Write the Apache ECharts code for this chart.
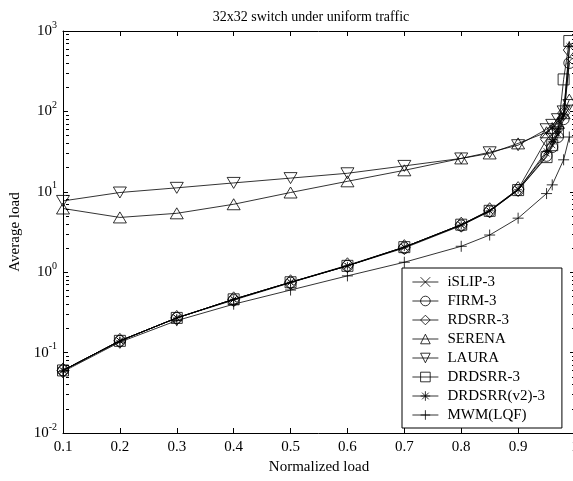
<!DOCTYPE html>
<html>
<head>
<meta charset="utf-8">
<script src="https://cdn.jsdelivr.net/npm/echarts@6/dist/echarts.min.js"></script>
<style>
  html, body { margin: 0; padding: 0; background: #fff; }
  #chart { width: 573px; height: 481px; }
</style>
</head>
<body>
<div id="chart"></div>
<script>
// offered load points (x axis)
const loads = [0.1, 0.2, 0.3, 0.4, 0.5, 0.6, 0.7, 0.8, 0.85, 0.9, 0.95, 0.96, 0.97, 0.98, 0.99];

// average load per scheme
const islip    = [0.06, 0.14, 0.27, 0.46, 0.75, 1.2, 2.05, 3.9, 5.8, 10.8, 30, 38, 52, 90, 420];
const firm     = [0.06, 0.14, 0.27, 0.45, 0.74, 1.2, 2.0, 3.8, 5.7, 10.5, 28, 36, 48, 80, 400];
const rdsrr    = [0.06, 0.14, 0.27, 0.46, 0.75, 1.22, 2.05, 3.9, 5.9, 10.8, 45, 52, 62, 95, 580];
const serena   = [6.2, 4.8, 5.4, 7.0, 9.8, 13.5, 18.5, 26, 30, 40, 55, 62, 72, 95, 140];
const laura    = [7.7, 9.8, 11.2, 12.9, 14.8, 17, 21, 26, 31, 38, 60, 68, 80, 100, 120];
const drdsrr   = [0.06, 0.14, 0.27, 0.46, 0.75, 1.2, 2.05, 3.9, 5.8, 10.5, 27, 38, 55, 250, 750];
const drdsrrV2 = [0.06, 0.14, 0.27, 0.46, 0.75, 1.2, 2.05, 3.85, 5.8, 10.6, 32, 42, 60, 90, 650];
const mwm      = [0.058, 0.135, 0.25, 0.4, 0.6, 0.9, 1.33, 2.1, 2.9, 4.7, 9.5, 12.2, null, 25, 48];

const seriesNames = ['iSLIP-3', 'FIRM-3', 'RDSRR-3', 'SERENA', 'LAURA', 'DRDSRR-3', 'DRDSRR(v2)-3', 'MWM(LQF)'];
const seriesValues = [islip, firm, rdsrr, serena, laura, drdsrr, drdsrrV2, mwm];

// y axis decades (exponents of 10) and the log minor ticks between them
const yExponents = [-2, -1, 0, 1, 2, 3];
const minorTicks = [];
yExponents.slice(0, -1).forEach(e => {
  for (let k = 2; k <= 9; k++) minorTicks.push(e + Math.log10(k));
});

const markers = [
  { symbol: 'path://M0,0L10,10M10,0L0,10', size: 6 },
  { symbol: 'circle', size: 11 },
  { symbol: 'diamond', size: [12, 15] },
  { symbol: 'triangle', size: [13, 11] },
  { symbol: 'path://M0,0L10,0L5,9Z', size: [13, 11] },
  { symbol: 'rect', size: 11 },
  { symbol: 'path://M5,0L5,10M0,5L10,5M1.5,1.5L8.5,8.5M8.5,1.5L1.5,8.5', size: 8 },
  { symbol: 'path://M5,0L5,10M0,5L10,5', size: 11 }
];

const font = 'Liberation Serif';
const chart = echarts.init(document.getElementById('chart'));

const series = seriesNames.map((name, i) => ({
  name: name,
  type: 'line',
  data: loads.map((x, j) => [x, seriesValues[i][j]]),
  connectNulls: true,
  symbol: markers[i].symbol,
  symbolSize: markers[i].size,
  showAllSymbol: true,
  color: '#000',
  lineStyle: { color: '#000', width: 0.8 },
  itemStyle: { color: 'rgba(0,0,0,0)', borderColor: '#000', borderWidth: 0.8 },
  emphasis: { disabled: true },
  animation: false
}));

const tickStyle = { color: '#000', width: 1 };

// tick-only axis laid over the log axis, in log10 units, for the minor ticks
// (custom ticks always point left, so the left one is shifted into the plot)
const minorAxis = (pos, offset) => ({
  type: 'value',
  min: -2,
  max: 3,
  position: pos,
  offset: offset,
  axisLine: { show: true, onZero: false, lineStyle: { color: 'rgba(0,0,0,0)', width: 1 } },
  axisTick: { show: true, inside: true, length: 3, lineStyle: tickStyle, customValues: minorTicks },
  axisLabel: { show: false },
  splitLine: { show: false }
});

const option = {
  backgroundColor: '#fff',
  title: {
    text: '32x32 switch under uniform traffic',
    left: 306,
    textAlign: 'center',
    top: 5,
    textStyle: { fontFamily: font, fontSize: 14, fontWeight: 'normal', color: '#000' }
  },
  legend: {
    orient: 'vertical',
    left: 402,
    top: 268,
    padding: [6, 17, 5, 10],
    itemWidth: 26,
    itemHeight: 12,
    itemGap: 3,
    borderColor: '#000',
    borderWidth: 1,
    backgroundColor: '#fff',
    lineStyle: { width: 0.8 },
    itemStyle: { borderWidth: 0.8 },
    textStyle: { fontFamily: font, fontSize: 15, color: '#000', lineHeight: 16, padding: [0, 0, 0, 4] },
    data: seriesNames
  },
  grid: { left: 63, top: 31, width: 512, height: 402, outerBoundsMode: 'none' },
  xAxis: [{
    type: 'value',
    min: 0.1,
    max: 1.0,
    interval: 0.1,
    name: 'Normalized load',
    nameLocation: 'middle',
    nameGap: 26,
    nameTextStyle: { fontFamily: font, fontSize: 15, color: '#000' },
    axisLine: { onZero: false, lineStyle: tickStyle },
    axisTick: { inside: true, length: 5, lineStyle: tickStyle },
    axisLabel: {
      margin: 7,
      fontFamily: font, fontSize: 15, color: '#000',
      formatter: v => String(+v.toFixed(2))
    },
    splitLine: { show: false }
  }, {
    type: 'value',
    position: 'top',
    min: 0.1,
    max: 1.0,
    interval: 0.1,
    axisLine: { onZero: false, lineStyle: tickStyle },
    axisTick: { inside: true, length: 5, lineStyle: tickStyle },
    axisLabel: { show: false },
    splitLine: { show: false }
  }],
  yAxis: [{
    type: 'log',
    logBase: 10,
    min: 0.01,
    max: 1000,
    name: 'Average load',
    nameLocation: 'middle',
    nameGap: 38,
    nameTextStyle: { fontFamily: font, fontSize: 15, color: '#000' },
    axisLine: { show: true, lineStyle: tickStyle },
    axisTick: { inside: true, length: 5, lineStyle: tickStyle },
    axisLabel: {
      margin: 6,
      formatter: v => '{b|10}{s|' + Math.round(Math.log10(v)) + '}',
      rich: {
        b: { fontFamily: font, fontSize: 15, color: '#000', lineHeight: 16 },
        s: { fontFamily: font, fontSize: 10, color: '#000', lineHeight: 10, padding: [0, 0, 12, 0] }
      }
    },
    splitLine: { show: false }
  }, minorAxis('left', -3), {
    type: 'log',
    logBase: 10,
    min: 0.01,
    max: 1000,
    position: 'right',
    axisLine: { show: true, lineStyle: tickStyle },
    axisTick: { inside: true, length: 5, lineStyle: tickStyle },
    axisLabel: { show: false },
    splitLine: { show: false }
  }, minorAxis('right', 0)],
  series: series
};

chart.setOption(option);
</script>
</body>
</html>
